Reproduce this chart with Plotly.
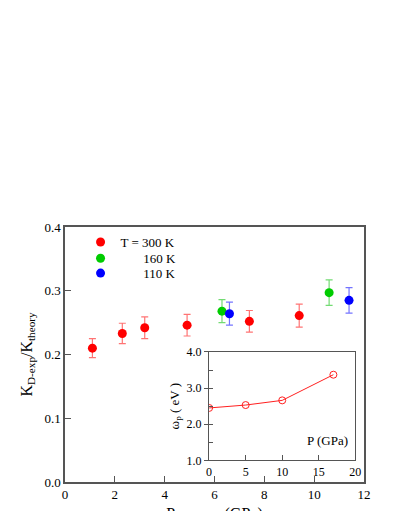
import plotly.graph_objects as go

# main panel data: pressure (GPa), ratio, error
p300 = [1.1, 2.3, 3.2, 4.9, 7.4, 9.4]
k300 = [0.210, 0.233, 0.242, 0.246, 0.252, 0.261]
e300 = [0.015, 0.016, 0.017, 0.017, 0.017, 0.018]

p160 = [6.3, 10.6]
k160 = [0.268, 0.297]
e160 = [0.018, 0.020]

p110 = [6.6, 11.4]
k110 = [0.264, 0.285]
e110 = [0.018, 0.020]

# inset: plasma energy vs pressure
p_inset = [0, 5, 10, 17]
wp_inset = [2.45, 2.53, 2.66, 3.37]

FONT = "Times New Roman, Liberation Serif, Times, serif"
AX = "#555555"

fig = go.Figure()

def add_series(x, y, e, color, ecolor, name, leg):
    fig.add_trace(go.Scatter(
        x=x, y=y, mode="markers", name=name, legend=leg,
        marker=dict(color=color, size=9),
        error_y=dict(type="data", array=e, color=ecolor, thickness=1.2, width=3.5),
    ))

pad = "\u00a0" * 7
add_series(p300, k300, e300, "#ff0000", "rgba(255,0,0,0.55)", "T = 300 K", "legend")
add_series(p160, k160, e160, "#00cc00", "rgba(0,190,0,0.55)", pad + "160 K", "legend2")
add_series(p110, k110, e110, "#0000ff", "rgba(0,0,255,0.55)", pad + "110 K", "legend3")

fig.add_trace(go.Scatter(
    x=p_inset, y=wp_inset, mode="lines+markers", xaxis="x2", yaxis="y2",
    line=dict(color="#ff2020", width=1),
    marker=dict(symbol="circle-open", size=7, color="#ff2020"),
    showlegend=False,
))

fig.add_annotation(x=16.2, y=1.56, xref="x2", yref="y2", text="P (GPa)",
                   showarrow=False, font=dict(family=FONT, size=13, color="black"))

def leg(y):
    return dict(x=0.052, y=y, xanchor="left", yanchor="top",
                bgcolor="rgba(0,0,0,0)", font=dict(family=FONT, size=13, color="black"))

# page body adds 8px offset; the figure runs past the window bottom so the
# x title is cut off like in the original
fig.update_layout(
    width=387, height=522,
    margin=dict(l=56.5, r=30.5, t=219, b=48),
    paper_bgcolor="white", plot_bgcolor="white",
    font=dict(family=FONT, size=13, color="black"),
    legend=leg(1.0), legend2=leg(0.936), legend3=leg(0.878),
    xaxis=dict(range=[0, 12], tickvals=[0, 2, 4, 6, 8, 10, 12],
               ticks="inside", ticklen=6, tickcolor=AX,
               showline=True, linecolor=AX, linewidth=1.5, mirror=True,
               showgrid=False, zeroline=False, automargin=False,
               title=dict(text="Pressure (GPa)", font=dict(size=16), standoff=6)),
    yaxis=dict(range=[0, 0.4], tickvals=[0, 0.1, 0.2, 0.3, 0.4], tickformat=".1f",
               ticks="inside", ticklen=6, tickcolor=AX,
               showline=True, linecolor=AX, linewidth=1.5, mirror=True,
               showgrid=False, zeroline=False, automargin=False,
               title=dict(text="K<sub>D-exp</sub>/K<sub>theory</sub>",
                          font=dict(size=16), standoff=8)),
    xaxis2=dict(domain=[0.482, 0.971], anchor="y2", range=[0, 20],
                tickvals=[0, 5, 10, 15, 20], ticks="inside", ticklen=5, tickcolor=AX,
                showline=True, linecolor=AX, linewidth=1.2, mirror=True,
                showgrid=False, zeroline=False, tickfont=dict(size=12)),
    yaxis2=dict(domain=[0.085, 0.51], anchor="x2", range=[1, 4],
                tickvals=[1, 2, 3, 4], tickformat=".1f", ticks="outside", ticklen=4,
                tickcolor=AX, minor=dict(dtick=0.5, ticks="inside", ticklen=4, tickcolor=AX),
                showline=True, linecolor=AX, linewidth=1.2, mirror=True,
                showgrid=False, zeroline=False, tickfont=dict(size=12),
                title=dict(text="\u03c9<sub>p</sub> ( eV )", font=dict(size=13), standoff=4)),
)

fig.write_html("out.html")
